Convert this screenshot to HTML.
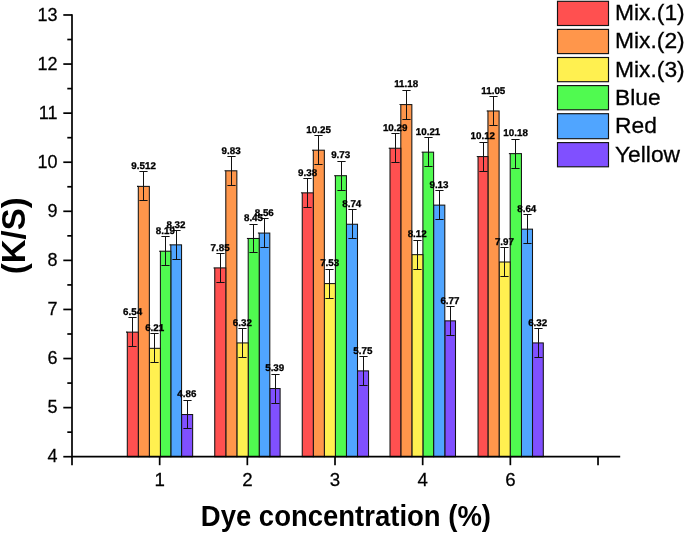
<!DOCTYPE html>
<html><head><meta charset="utf-8"><title>K/S vs dye concentration</title>
<style>html,body{margin:0;padding:0;background:#fff}svg{display:block}text{font-family:"Liberation Sans",Arial,sans-serif;fill:#000}.b{font-weight:bold}.g{font-weight:bold;text-rendering:geometricPrecision}</style></head><body>
<svg width="685" height="534" viewBox="0 0 685 534">
<rect width="685" height="534" fill="#fff"/>
<rect x="181.55" y="414.53" width="11.09" height="42.17" fill="#8050FF" stroke="#141414" stroke-width="1.05"/>
<path d="M180.25 414.53H181.55" stroke="#141414" stroke-width="1.05"/>
<path d="M187.50 400.50V428.50M183.40 400.50H191.60M183.40 428.50H191.60" stroke="#111" stroke-width="1" fill="none"/>
<rect x="269.80" y="388.53" width="10.30" height="68.17" fill="#8050FF" stroke="#141414" stroke-width="1.05"/>
<path d="M268.50 388.53H269.80" stroke="#141414" stroke-width="1.05"/>
<path d="M275.50 374.50V403.50M271.40 374.50H279.60M271.40 403.50H279.60" stroke="#111" stroke-width="1" fill="none"/>
<rect x="357.50" y="370.88" width="11.05" height="85.82" fill="#8050FF" stroke="#141414" stroke-width="1.05"/>
<path d="M356.20 370.88H357.50" stroke="#141414" stroke-width="1.05"/>
<path d="M363.50 356.50V385.50M359.40 356.50H367.60M359.40 385.50H367.60" stroke="#111" stroke-width="1" fill="none"/>
<rect x="444.80" y="320.86" width="10.70" height="135.84" fill="#8050FF" stroke="#141414" stroke-width="1.05"/>
<path d="M443.50 320.86H444.80" stroke="#141414" stroke-width="1.05"/>
<path d="M450.50 306.50V335.50M446.40 306.50H454.60M446.40 335.50H454.60" stroke="#111" stroke-width="1" fill="none"/>
<rect x="532.50" y="342.93" width="10.80" height="113.77" fill="#8050FF" stroke="#141414" stroke-width="1.05"/>
<path d="M531.20 342.93H532.50" stroke="#141414" stroke-width="1.05"/>
<path d="M538.50 328.50V357.50M534.40 328.50H542.60M534.40 357.50H542.60" stroke="#111" stroke-width="1" fill="none"/>
<rect x="170.80" y="244.85" width="10.75" height="211.85" fill="#50A5FF" stroke="#141414" stroke-width="1.05"/>
<path d="M169.50 244.85H170.80" stroke="#141414" stroke-width="1.05"/>
<path d="M176.50 230.50V259.50M172.40 230.50H180.60M172.40 259.50H180.60" stroke="#111" stroke-width="1" fill="none"/>
<rect x="259.20" y="233.08" width="10.60" height="223.62" fill="#50A5FF" stroke="#141414" stroke-width="1.05"/>
<path d="M257.90 233.08H259.20" stroke="#141414" stroke-width="1.05"/>
<path d="M264.50 218.50V247.50M260.40 218.50H268.60M260.40 247.50H268.60" stroke="#111" stroke-width="1" fill="none"/>
<rect x="346.45" y="224.25" width="11.05" height="232.45" fill="#50A5FF" stroke="#141414" stroke-width="1.05"/>
<path d="M345.15 224.25H346.45" stroke="#141414" stroke-width="1.05"/>
<path d="M352.50 209.50V238.50M348.40 209.50H356.60M348.40 238.50H356.60" stroke="#111" stroke-width="1" fill="none"/>
<rect x="433.60" y="205.12" width="11.20" height="251.58" fill="#50A5FF" stroke="#141414" stroke-width="1.05"/>
<path d="M432.30 205.12H433.60" stroke="#141414" stroke-width="1.05"/>
<path d="M439.50 190.50V219.50M435.40 190.50H443.60M435.40 219.50H443.60" stroke="#111" stroke-width="1" fill="none"/>
<rect x="521.45" y="229.15" width="11.05" height="227.55" fill="#50A5FF" stroke="#141414" stroke-width="1.05"/>
<path d="M520.15 229.15H521.45" stroke="#141414" stroke-width="1.05"/>
<path d="M527.50 214.50V243.50M523.40 214.50H531.60M523.40 243.50H531.60" stroke="#111" stroke-width="1" fill="none"/>
<rect x="160.40" y="251.22" width="10.40" height="205.48" fill="#50FA50" stroke="#141414" stroke-width="1.05"/>
<path d="M159.10 251.22H160.40" stroke="#141414" stroke-width="1.05"/>
<path d="M165.50 236.50V265.50M161.40 236.50H169.60M161.40 265.50H169.60" stroke="#111" stroke-width="1" fill="none"/>
<rect x="248.20" y="238.47" width="11.00" height="218.23" fill="#50FA50" stroke="#141414" stroke-width="1.05"/>
<path d="M246.90 238.47H248.20" stroke="#141414" stroke-width="1.05"/>
<path d="M253.50 224.50V252.50M249.40 224.50H257.60M249.40 252.50H257.60" stroke="#111" stroke-width="1" fill="none"/>
<rect x="335.40" y="175.70" width="11.05" height="281.00" fill="#50FA50" stroke="#141414" stroke-width="1.05"/>
<path d="M334.10 175.70H335.40" stroke="#141414" stroke-width="1.05"/>
<path d="M341.50 161.50V190.50M337.40 161.50H345.60M337.40 190.50H345.60" stroke="#111" stroke-width="1" fill="none"/>
<rect x="422.90" y="152.16" width="10.70" height="304.54" fill="#50FA50" stroke="#141414" stroke-width="1.05"/>
<path d="M421.60 152.16H422.90" stroke="#141414" stroke-width="1.05"/>
<path d="M428.50 137.50V166.50M424.40 137.50H432.60M424.40 166.50H432.60" stroke="#111" stroke-width="1" fill="none"/>
<rect x="510.20" y="153.63" width="11.25" height="303.07" fill="#50FA50" stroke="#141414" stroke-width="1.05"/>
<path d="M508.90 153.63H510.20" stroke="#141414" stroke-width="1.05"/>
<path d="M515.50 139.50V168.50M511.40 139.50H519.60M511.40 168.50H519.60" stroke="#111" stroke-width="1" fill="none"/>
<rect x="149.35" y="348.32" width="11.05" height="108.38" fill="#FFF050" stroke="#141414" stroke-width="1.05"/>
<path d="M148.05 348.32H149.35" stroke="#141414" stroke-width="1.05"/>
<path d="M154.50 333.50V362.50M150.40 333.50H158.60M150.40 362.50H158.60" stroke="#111" stroke-width="1" fill="none"/>
<rect x="236.85" y="342.93" width="11.35" height="113.77" fill="#FFF050" stroke="#141414" stroke-width="1.05"/>
<path d="M235.55 342.93H236.85" stroke="#141414" stroke-width="1.05"/>
<path d="M242.50 328.50V357.50M238.40 328.50H246.60M238.40 357.50H246.60" stroke="#111" stroke-width="1" fill="none"/>
<rect x="324.35" y="283.59" width="11.05" height="173.11" fill="#FFF050" stroke="#141414" stroke-width="1.05"/>
<path d="M323.05 283.59H324.35" stroke="#141414" stroke-width="1.05"/>
<path d="M329.50 269.50V298.50M325.40 269.50H333.60M325.40 298.50H333.60" stroke="#111" stroke-width="1" fill="none"/>
<rect x="411.85" y="254.66" width="11.05" height="202.04" fill="#FFF050" stroke="#141414" stroke-width="1.05"/>
<path d="M410.55 254.66H411.85" stroke="#141414" stroke-width="1.05"/>
<path d="M417.50 240.50V269.50M413.40 240.50H421.60M413.40 269.50H421.60" stroke="#111" stroke-width="1" fill="none"/>
<rect x="499.10" y="262.01" width="11.10" height="194.69" fill="#FFF050" stroke="#141414" stroke-width="1.05"/>
<path d="M497.80 262.01H499.10" stroke="#141414" stroke-width="1.05"/>
<path d="M504.50 247.50V276.50M500.40 247.50H508.60M500.40 276.50H508.60" stroke="#111" stroke-width="1" fill="none"/>
<rect x="138.30" y="186.39" width="11.05" height="270.31" fill="#FF964B" stroke="#141414" stroke-width="1.05"/>
<path d="M137.00 186.39H138.30" stroke="#141414" stroke-width="1.05"/>
<path d="M143.50 171.50V200.50M139.40 171.50H147.60M139.40 200.50H147.60" stroke="#111" stroke-width="1" fill="none"/>
<rect x="225.80" y="170.80" width="11.05" height="285.90" fill="#FF964B" stroke="#141414" stroke-width="1.05"/>
<path d="M224.50 170.80H225.80" stroke="#141414" stroke-width="1.05"/>
<path d="M231.50 156.50V185.50M227.40 156.50H235.60M227.40 185.50H235.60" stroke="#111" stroke-width="1" fill="none"/>
<rect x="313.30" y="150.20" width="11.05" height="306.50" fill="#FF964B" stroke="#141414" stroke-width="1.05"/>
<path d="M312.00 150.20H313.30" stroke="#141414" stroke-width="1.05"/>
<path d="M318.50 135.50V164.50M314.40 135.50H322.60M314.40 164.50H322.60" stroke="#111" stroke-width="1" fill="none"/>
<rect x="400.80" y="104.59" width="11.05" height="352.11" fill="#FF964B" stroke="#141414" stroke-width="1.05"/>
<path d="M399.50 104.59H400.80" stroke="#141414" stroke-width="1.05"/>
<path d="M406.50 90.50V119.50M402.40 90.50H410.60M402.40 119.50H410.60" stroke="#111" stroke-width="1" fill="none"/>
<rect x="487.95" y="110.97" width="11.15" height="345.73" fill="#FF964B" stroke="#141414" stroke-width="1.05"/>
<path d="M486.65 110.97H487.95" stroke="#141414" stroke-width="1.05"/>
<path d="M493.50 96.50V125.50M489.40 96.50H497.60M489.40 125.50H497.60" stroke="#111" stroke-width="1" fill="none"/>
<rect x="127.30" y="332.14" width="11.00" height="124.56" fill="#FF5050" stroke="#141414" stroke-width="1.05"/>
<path d="M126.00 332.14H127.30" stroke="#141414" stroke-width="1.05"/>
<path d="M132.50 317.50V346.50M128.40 317.50H136.60M128.40 346.50H136.60" stroke="#111" stroke-width="1" fill="none"/>
<rect x="214.75" y="267.90" width="11.05" height="188.80" fill="#FF5050" stroke="#141414" stroke-width="1.05"/>
<path d="M213.45 267.90H214.75" stroke="#141414" stroke-width="1.05"/>
<path d="M220.50 253.50V282.50M216.40 253.50H224.60M216.40 282.50H224.60" stroke="#111" stroke-width="1" fill="none"/>
<rect x="302.25" y="192.86" width="11.05" height="263.84" fill="#FF5050" stroke="#141414" stroke-width="1.05"/>
<path d="M300.95 192.86H302.25" stroke="#141414" stroke-width="1.05"/>
<path d="M307.50 178.50V207.50M303.40 178.50H311.60M303.40 207.50H311.60" stroke="#111" stroke-width="1" fill="none"/>
<rect x="390.00" y="148.24" width="10.80" height="308.46" fill="#FF5050" stroke="#141414" stroke-width="1.05"/>
<path d="M388.70 148.24H390.00" stroke="#141414" stroke-width="1.05"/>
<path d="M395.50 133.50V162.50M391.40 133.50H399.60M391.40 162.50H399.60" stroke="#111" stroke-width="1" fill="none"/>
<rect x="478.05" y="156.58" width="9.90" height="300.12" fill="#FF5050" stroke="#141414" stroke-width="1.05"/>
<path d="M476.75 156.58H478.05" stroke="#141414" stroke-width="1.05"/>
<path d="M483.50 142.50V171.50M479.40 142.50H487.60M479.40 171.50H487.60" stroke="#111" stroke-width="1" fill="none"/>
<text class="g" x="186.90" y="397" font-size="9.8" text-anchor="middle" stroke="#000" stroke-width="0.3">4.86</text>
<text class="g" x="274.75" y="371" font-size="9.8" text-anchor="middle" stroke="#000" stroke-width="0.3">5.39</text>
<text class="g" x="362.82" y="354" font-size="9.8" text-anchor="middle" stroke="#000" stroke-width="0.3">5.75</text>
<text class="g" x="449.95" y="304" font-size="9.8" text-anchor="middle" stroke="#000" stroke-width="0.3">6.77</text>
<text class="g" x="537.70" y="326" font-size="9.8" text-anchor="middle" stroke="#000" stroke-width="0.3">6.32</text>
<text class="g" x="175.98" y="228" font-size="9.8" text-anchor="middle" stroke="#000" stroke-width="0.3">8.32</text>
<text class="g" x="264.30" y="216" font-size="9.8" text-anchor="middle" stroke="#000" stroke-width="0.3">8.56</text>
<text class="g" x="351.78" y="207" font-size="9.8" text-anchor="middle" stroke="#000" stroke-width="0.3">8.74</text>
<text class="g" x="439.00" y="188" font-size="9.8" text-anchor="middle" stroke="#000" stroke-width="0.3">9.13</text>
<text class="g" x="526.77" y="212" font-size="9.8" text-anchor="middle" stroke="#000" stroke-width="0.3">8.64</text>
<text class="g" x="165.40" y="234" font-size="9.8" text-anchor="middle" stroke="#000" stroke-width="0.3">8.19</text>
<text class="g" x="253.50" y="221" font-size="9.8" text-anchor="middle" stroke="#000" stroke-width="0.3">8.45</text>
<text class="g" x="340.72" y="158" font-size="9.8" text-anchor="middle" stroke="#000" stroke-width="0.3">9.73</text>
<text class="g" x="428.05" y="135" font-size="9.8" text-anchor="middle" stroke="#000" stroke-width="0.3">10.21</text>
<text class="g" x="515.62" y="136" font-size="9.8" text-anchor="middle" stroke="#000" stroke-width="0.3">10.18</text>
<text class="g" x="154.68" y="331" font-size="9.8" text-anchor="middle" stroke="#000" stroke-width="0.3">6.21</text>
<text class="g" x="242.32" y="326" font-size="9.8" text-anchor="middle" stroke="#000" stroke-width="0.3">6.32</text>
<text class="g" x="329.68" y="266" font-size="9.8" text-anchor="middle" stroke="#000" stroke-width="0.3">7.53</text>
<text class="g" x="417.18" y="237" font-size="9.8" text-anchor="middle" stroke="#000" stroke-width="0.3">8.12</text>
<text class="g" x="504.45" y="245" font-size="9.8" text-anchor="middle" stroke="#000" stroke-width="0.3">7.97</text>
<text class="g" x="143.62" y="169" font-size="9.8" text-anchor="middle" stroke="#000" stroke-width="0.3">9.512</text>
<text class="g" x="231.12" y="154" font-size="9.8" text-anchor="middle" stroke="#000" stroke-width="0.3">9.83</text>
<text class="g" x="318.63" y="133" font-size="9.8" text-anchor="middle" stroke="#000" stroke-width="0.3">10.25</text>
<text class="g" x="406.13" y="87" font-size="9.8" text-anchor="middle" stroke="#000" stroke-width="0.3">11.18</text>
<text class="g" x="493.32" y="94" font-size="9.8" text-anchor="middle" stroke="#000" stroke-width="0.3">11.05</text>
<text class="g" x="132.60" y="315" font-size="9.8" text-anchor="middle" stroke="#000" stroke-width="0.3">6.54</text>
<text class="g" x="220.08" y="251" font-size="9.8" text-anchor="middle" stroke="#000" stroke-width="0.3">7.85</text>
<text class="g" x="307.57" y="176" font-size="9.8" text-anchor="middle" stroke="#000" stroke-width="0.3">9.38</text>
<text class="g" x="395.20" y="131" font-size="9.8" text-anchor="middle" stroke="#000" stroke-width="0.3">10.29</text>
<text class="g" x="482.80" y="139" font-size="9.8" text-anchor="middle" stroke="#000" stroke-width="0.3">10.12</text>
<path d="M72.0 14.130000000000019V465.2M71.15 456.7H620.2" stroke="#000" stroke-width="1.7" fill="none"/>
<path d="M63.3 456.70H72.0" stroke="#000" stroke-width="1.7"/>
<text transform="translate(57.50 462.30) scale(1 1.06)" font-size="18" text-anchor="end" stroke="#000" stroke-width="0.25">4</text>
<path d="M67.3 432.16H72.0" stroke="#000" stroke-width="1.7"/>
<path d="M63.3 407.62H72.0" stroke="#000" stroke-width="1.7"/>
<text transform="translate(57.50 413.22) scale(1 1.06)" font-size="18" text-anchor="end" stroke="#000" stroke-width="0.25">5</text>
<path d="M67.3 383.08H72.0" stroke="#000" stroke-width="1.7"/>
<path d="M63.3 358.54H72.0" stroke="#000" stroke-width="1.7"/>
<text transform="translate(57.50 364.14) scale(1 1.06)" font-size="18" text-anchor="end" stroke="#000" stroke-width="0.25">6</text>
<path d="M67.3 334.00H72.0" stroke="#000" stroke-width="1.7"/>
<path d="M63.3 309.46H72.0" stroke="#000" stroke-width="1.7"/>
<text transform="translate(57.50 315.06) scale(1 1.06)" font-size="18" text-anchor="end" stroke="#000" stroke-width="0.25">7</text>
<path d="M67.3 284.92H72.0" stroke="#000" stroke-width="1.7"/>
<path d="M63.3 260.38H72.0" stroke="#000" stroke-width="1.7"/>
<text transform="translate(57.50 265.98) scale(1 1.06)" font-size="18" text-anchor="end" stroke="#000" stroke-width="0.25">8</text>
<path d="M67.3 235.84H72.0" stroke="#000" stroke-width="1.7"/>
<path d="M63.3 211.30H72.0" stroke="#000" stroke-width="1.7"/>
<text transform="translate(57.50 216.90) scale(1 1.06)" font-size="18" text-anchor="end" stroke="#000" stroke-width="0.25">9</text>
<path d="M67.3 186.76H72.0" stroke="#000" stroke-width="1.7"/>
<path d="M63.3 162.22H72.0" stroke="#000" stroke-width="1.7"/>
<text transform="translate(57.50 167.82) scale(1 1.06)" font-size="18" text-anchor="end" stroke="#000" stroke-width="0.25">10</text>
<path d="M67.3 137.68H72.0" stroke="#000" stroke-width="1.7"/>
<path d="M63.3 113.14H72.0" stroke="#000" stroke-width="1.7"/>
<text transform="translate(57.50 118.74) scale(1 1.06)" font-size="18" text-anchor="end" stroke="#000" stroke-width="0.25">11</text>
<path d="M67.3 88.60H72.0" stroke="#000" stroke-width="1.7"/>
<path d="M63.3 64.06H72.0" stroke="#000" stroke-width="1.7"/>
<text transform="translate(57.50 69.66) scale(1 1.06)" font-size="18" text-anchor="end" stroke="#000" stroke-width="0.25">12</text>
<path d="M67.3 39.52H72.0" stroke="#000" stroke-width="1.7"/>
<path d="M63.3 14.98H72.0" stroke="#000" stroke-width="1.7"/>
<text transform="translate(57.50 20.58) scale(1 1.06)" font-size="18" text-anchor="end" stroke="#000" stroke-width="0.25">13</text>
<path d="M159.67 456.7V465.2" stroke="#000" stroke-width="1.7"/>
<text transform="translate(159.67 485.50) scale(1.04 1.06)" font-size="18" text-anchor="middle" stroke="#000" stroke-width="0.25">1</text>
<path d="M247.34 456.7V465.2" stroke="#000" stroke-width="1.7"/>
<text transform="translate(247.34 485.50) scale(1.04 1.06)" font-size="18" text-anchor="middle" stroke="#000" stroke-width="0.25">2</text>
<path d="M335.01 456.7V465.2" stroke="#000" stroke-width="1.7"/>
<text transform="translate(335.01 485.50) scale(1.04 1.06)" font-size="18" text-anchor="middle" stroke="#000" stroke-width="0.25">3</text>
<path d="M422.68 456.7V465.2" stroke="#000" stroke-width="1.7"/>
<text transform="translate(422.68 485.50) scale(1.04 1.06)" font-size="18" text-anchor="middle" stroke="#000" stroke-width="0.25">4</text>
<path d="M510.35 456.7V465.2" stroke="#000" stroke-width="1.7"/>
<text transform="translate(510.35 485.50) scale(1.04 1.06)" font-size="18" text-anchor="middle" stroke="#000" stroke-width="0.25">6</text>
<path d="M598.02 456.7V465.2" stroke="#000" stroke-width="1.7"/>
<text class="b" transform="translate(345.90 525.60) scale(1 1.04)" font-size="27.5" text-anchor="middle">Dye concentration (%)</text>
<text class="b" transform="translate(25.00 235.80) rotate(-90)" font-size="33" text-anchor="middle">(K/S)</text>
<rect x="557.5" y="1.30" width="51" height="24.2" fill="#FF5050" stroke="#141414" stroke-width="1.15"/>
<text transform="translate(615.00 20.30)" font-size="22.8" text-anchor="start" stroke="#000" stroke-width="0.3">Mix.(1)</text>
<rect x="557.5" y="29.40" width="51" height="24.2" fill="#FF964B" stroke="#141414" stroke-width="1.15"/>
<text transform="translate(615.00 48.40)" font-size="22.8" text-anchor="start" stroke="#000" stroke-width="0.3">Mix.(2)</text>
<rect x="557.5" y="57.50" width="51" height="24.2" fill="#FFF050" stroke="#141414" stroke-width="1.15"/>
<text transform="translate(615.00 76.50)" font-size="22.8" text-anchor="start" stroke="#000" stroke-width="0.3">Mix.(3)</text>
<rect x="557.5" y="85.60" width="51" height="24.2" fill="#50FA50" stroke="#141414" stroke-width="1.15"/>
<text transform="translate(615.00 104.60)" font-size="22.8" text-anchor="start" stroke="#000" stroke-width="0.3">Blue</text>
<rect x="557.5" y="113.70" width="51" height="25.0" fill="#50A5FF" stroke="#141414" stroke-width="1.15"/>
<text transform="translate(615.00 132.70)" font-size="22.8" text-anchor="start" stroke="#000" stroke-width="0.3">Red</text>
<rect x="557.5" y="142.60" width="51" height="24.2" fill="#8050FF" stroke="#141414" stroke-width="1.15"/>
<text transform="translate(615.00 161.60)" font-size="22.8" text-anchor="start" stroke="#000" stroke-width="0.3">Yellow</text>
</svg></body></html>
